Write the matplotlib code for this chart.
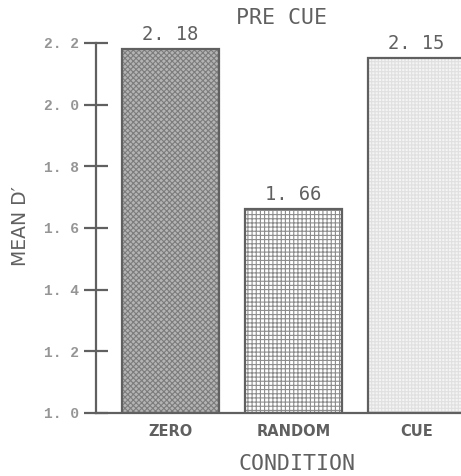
import matplotlib
matplotlib.use("Agg")
import matplotlib.pyplot as plt

plt.rcParams['hatch.linewidth'] = 0.8

# data
conditions = ["ZERO", "RANDOM", "CUE"]
mean_d = [2.18, 1.66, 2.15]
value_labels = ["2. 18", "1. 66", "2. 15"]
y_ticks = [1.0, 1.2, 1.4, 1.6, 1.8, 2.0, 2.2]
y_tick_labels = ["1. 0", "1. 2", "1. 4", "1. 6", "1. 8", "2. 0", "2. 2"]

ink = "#606060"
light_ink = "#959595"

fig = plt.figure(figsize=(4.61, 4.76), dpi=100)
ax = fig.add_axes([0.208, 0.1324, 0.7918, 0.7773])

# bar styles
face = ["#b4b4b4", "white", "#f4f4f4"]
hatch = ["xxxxxx", "++++", "+++++"]
hatch_col = ["#7c7c7c", "#8c8c8c", "#e0e0e0"]

x = list(range(len(conditions)))
for i in x:
    ax.bar(i, mean_d[i] - 1.0, bottom=1.0, width=0.79,
           facecolor=face[i], edgecolor=hatch_col[i], hatch=hatch[i],
           linewidth=0, zorder=2)
    # outline
    ax.bar(i, mean_d[i] - 1.0, bottom=1.0, width=0.79,
           facecolor="none", edgecolor=ink, linewidth=1.6, zorder=3)
    ax.text(i, mean_d[i] + 0.018, value_labels[i], ha="center", va="bottom",
            fontsize=13.5, family="DejaVu Sans Mono", color=ink)

ax.set_xlim(-0.606, 2.362)
ax.set_ylim(1.0, 2.2)

for s in ["top", "right"]:
    ax.spines[s].set_visible(False)
for s in ["left", "bottom"]:
    ax.spines[s].set_color(ink)
    ax.spines[s].set_linewidth(1.6)

ax.set_yticks(y_ticks)
ax.set_yticklabels(y_tick_labels, family="Liberation Mono", fontweight="bold",
                   fontsize=10.5, color=light_ink)
ax.tick_params(axis="y", direction="inout", length=17, width=1.6, color=ink, pad=4)

ax.set_xticks(x)
ax.set_xticklabels(conditions, fontsize=10.5, fontweight="bold", color=ink,
                   family="DejaVu Sans")
ax.tick_params(axis="x", length=0, pad=8)

fig.text(0.61, 0.962, "PRE CUE", ha="center", va="center",
         fontsize=15.5, family="DejaVu Sans Mono", color=ink)
fig.text(0.645, 0.025, "CONDITION", ha="center", va="center",
         fontsize=15.5, family="DejaVu Sans Mono", color=ink)
fig.text(0.045, 0.525, "MEAN D\u2032", ha="center", va="center", rotation=90,
         fontsize=13.5, family="DejaVu Sans", color=ink)

fig.savefig("out.png", dpi=100)
